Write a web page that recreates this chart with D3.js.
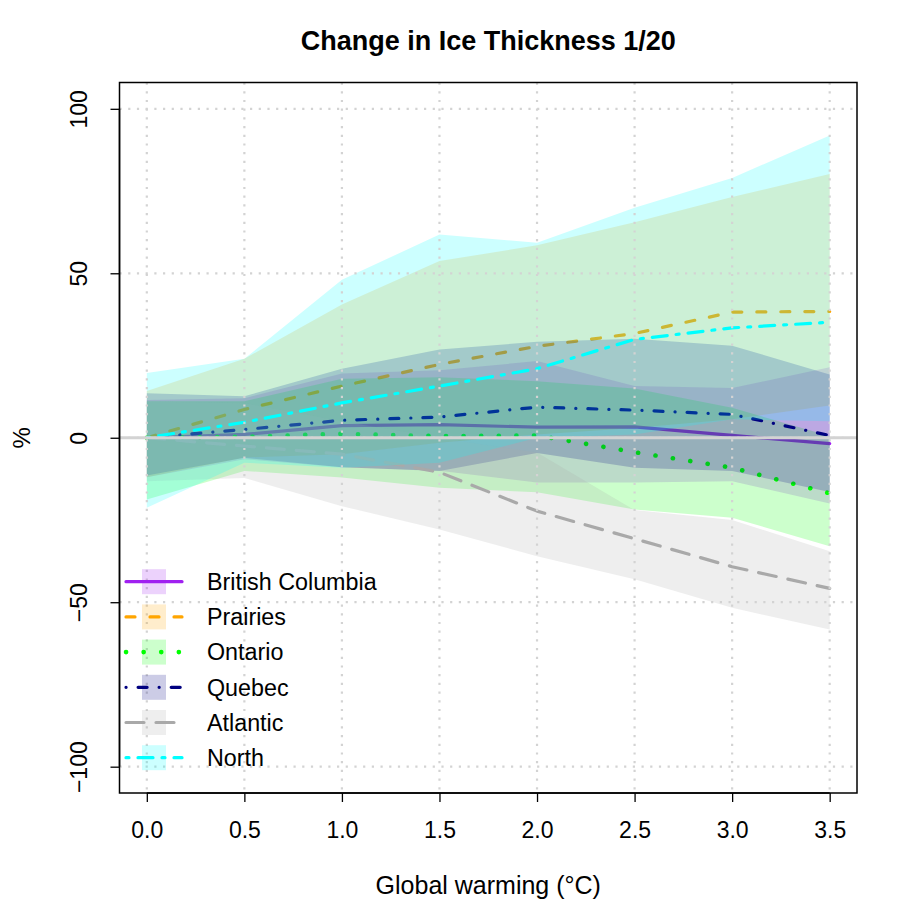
<!DOCTYPE html>
<html><head><meta charset="utf-8">
<script src="https://cdn.jsdelivr.net/npm/d3@7/dist/d3.min.js"></script>
<style>body{margin:0;background:#fff}svg{display:block}text{font-family:"Liberation Sans",Arial,sans-serif}</style>
</head><body>
<svg id="chart" width="911" height="911"></svg>
<script>
const warming = [0, 0.5, 1.0, 1.5, 2.0, 2.5, 3.0, 3.5];
const regionNames = ["British Columbia","Prairies","Ontario","Quebec","Atlantic","North"];
const regionColors = ["#A020F0","#FFA500","#00FF00","#000080","#A9A9A9","#00FFFF"];
const bcMean = [0, 1.0, 3.7, 4.0, 3.2, 3.3, 0.7, -1.8];
const bcLow  = [-12, -6.5, -9, -10, -13.6, -13.6, -13.2, -20];
const bcHigh = [11.5, 12, 19.5, 20.5, 23.3, 15.7, 15.1, 21.4];
const prMean = [0, 8.6, 15.7, 22.3, 27.8, 31.7, 38.2, 38.4];
const prLow  = [-12, -6, -5, -1.5, 1, 3, 5.6, 9.8];
const prHigh = [14.2, 24, 40.5, 53.7, 58.5, 65.5, 73.2, 80.2];
const onMean = [0, 0.3, 1.2, 0.5, 0.7, -4.4, -9.1, -16.9];
const onLow  = [-18.8, -10.1, -12.1, -15.2, -16.6, -21.8, -24.3, -33];
const onHigh = [11.1, 11.1, 17.9, 18.4, 17.2, 15, 9.1, 0.5];
const qcMean = [0, 2.5, 5.3, 6.3, 9.3, 8.4, 7.1, 0.7];
const qcLow  = [-11.5, -6.1, -9, -10.1, -4.6, -9.1, -10.1, -16.5];
const qcHigh = [13.5, 12.6, 21, 26.8, 29.2, 30.1, 28, 19.2];
const atMean = [0, -2.5, -5, -10.5, -22.3, -30.7, -39.2, -45.8];
const atLow  = [-13.2, -12.2, -20.8, -27.9, -36, -43, -51.7, -58.3];
const atHigh = [11, 10.5, 5, 0, -4.5, -22, -25, -34.5];
const noMean = [0, 4.7, 10.6, 15.7, 21, 29.9, 33.4, 35.1];
const noLow  = [-21.3, -7.6, -9.1, -7.6, 0, 1, 5.6, 5];
const noHigh = [19.7, 24, 48, 61.8, 59.3, 69.9, 79, 91.9];
const xTicks = [0, 0.5, 1.0, 1.5, 2.0, 2.5, 3.0, 3.5];
const yTicks = [-100, -50, 0, 50, 100];
const yTickLabels = ["\u2212100", "\u221250", "0", "50", "100"];

const series = [
  {mean: bcMean, low: bcLow, high: bcHigh, dash: null, w: 3.2},
  {mean: prMean, low: prLow, high: prHigh, dash: "9 15", w: 3.2},
  {mean: onMean, low: onLow, high: onHigh, dash: "0.1 17.5", w: 4.6},
  {mean: qcMean, low: qcLow, high: qcHigh, dash: "0.1 12 9 12", w: 3.2},
  {mean: atMean, low: atLow, high: atHigh, dash: "18 12", w: 3.2},
  {mean: noMean, low: noLow, high: noHigh, dash: "3 9 15 9", w: 3.2}
];

const L = 119.5, R = 857, T = 82.5, B = 793;
const x = d3.scaleLinear().domain([-0.14, 3.64]).range([L, R]);
const y = d3.scaleLinear().domain([-108, 108]).range([B, T]);
const svg = d3.select("#chart");

svg.append("defs").append("clipPath").attr("id","clip")
  .append("rect").attr("x",L).attr("y",T).attr("width",R-L).attr("height",B-T);
const plot = svg.append("g").attr("clip-path","url(#clip)");

const area = d3.area().x((d,i)=>x(warming[i])).y0(d=>y(d[0])).y1(d=>y(d[1]));
const line = d3.line().x((d,i)=>x(warming[i])).y(d=>y(d));

series.forEach((s,k)=>{
  const pts = warming.map((w,i)=>[s.low[i], s.high[i]]);
  plot.append("path").attr("d", area(pts)).attr("fill", regionColors[k]).attr("fill-opacity",0.2).attr("stroke","none");
  plot.append("path").attr("d", line(s.mean)).attr("fill","none").attr("stroke", regionColors[k])
    .attr("stroke-width", s.w).attr("stroke-linecap","round").attr("stroke-linejoin","round")
    .attr("stroke-dasharray", s.dash);
});

// grid
const grid = svg.append("g").attr("stroke","#D3D3D3").attr("stroke-width",2.2).attr("stroke-dasharray","2.2 6.5");
xTicks.forEach(t=>grid.append("line").attr("x1",x(t)).attr("x2",x(t)).attr("y1",T).attr("y2",B));
yTicks.forEach(t=>grid.append("line").attr("x1",L).attr("x2",R).attr("y1",y(t)).attr("y2",y(t)));
// zero line
svg.append("line").attr("x1",L).attr("x2",R).attr("y1",y(0)).attr("y2",y(0))
  .attr("stroke","#D3D3D3").attr("stroke-width",3.2);

// box
svg.append("rect").attr("x",L).attr("y",T).attr("width",R-L).attr("height",B-T)
  .attr("fill","none").attr("stroke","#000").attr("stroke-width",1.5);

// axes
const xAxis = svg.append("g").attr("transform",`translate(0,${B})`)
  .call(d3.axisBottom(x).tickValues(xTicks).tickFormat(d3.format(".1f")).tickSize(9).tickPadding(20));
xAxis.select(".domain").attr("d", `M${x(0)},0H${x(3.5)}`).attr("stroke-width",1.5);
xAxis.selectAll(".tick line").attr("stroke-width",1.3);
xAxis.selectAll("text").attr("font-size",23).attr("fill","#000").attr("font-family","Liberation Sans, Arial, sans-serif");

const yAxis = svg.append("g").attr("transform",`translate(${L},0)`)
  .call(d3.axisLeft(y).tickValues(yTicks).tickFormat((d,i)=>yTickLabels[i]).tickSize(9));
yAxis.select(".domain").attr("d", `M0,${y(-100)}V${y(100)}`).attr("stroke-width",1.5);
yAxis.selectAll(".tick line").attr("stroke-width",1.3);
yAxis.selectAll("text").attr("font-size",23).attr("fill","#000").attr("font-family","Liberation Sans, Arial, sans-serif")
  .attr("x",null).attr("dy",null).attr("text-anchor","middle")
  .attr("transform","translate(-33,0) rotate(-90)");

// title and labels
svg.append("text").attr("x",(L+R)/2).attr("y",50).attr("text-anchor","middle")
  .attr("font-size",27).attr("font-weight","bold").text("Change in Ice Thickness 1/20");
svg.append("text").attr("x",(L+R)/2).attr("y",894).attr("text-anchor","middle")
  .attr("font-size",25).text("Global warming (\u00B0C)");
svg.append("text").attr("transform",`translate(30,${y(0)}) rotate(-90)`).attr("text-anchor","middle")
  .attr("font-size",24).text("%");

// legend
const lg = svg.append("g");
regionNames.forEach((name,k)=>{
  const cy = 581.7 + k*35.2;
  lg.append("rect").attr("x",142).attr("y",cy-12.5).attr("width",24).attr("height",25)
    .attr("fill",regionColors[k]).attr("fill-opacity",0.2);
  lg.append("line").attr("x1",126).attr("x2",182).attr("y1",cy).attr("y2",cy)
    .attr("stroke",regionColors[k]).attr("stroke-width",series[k].w).attr("stroke-linecap","round")
    .attr("stroke-dasharray",series[k].dash);
  lg.append("text").attr("x",207).attr("y",cy+8.3).attr("font-size",23.3).text(name);
});
</script>
</body></html>
